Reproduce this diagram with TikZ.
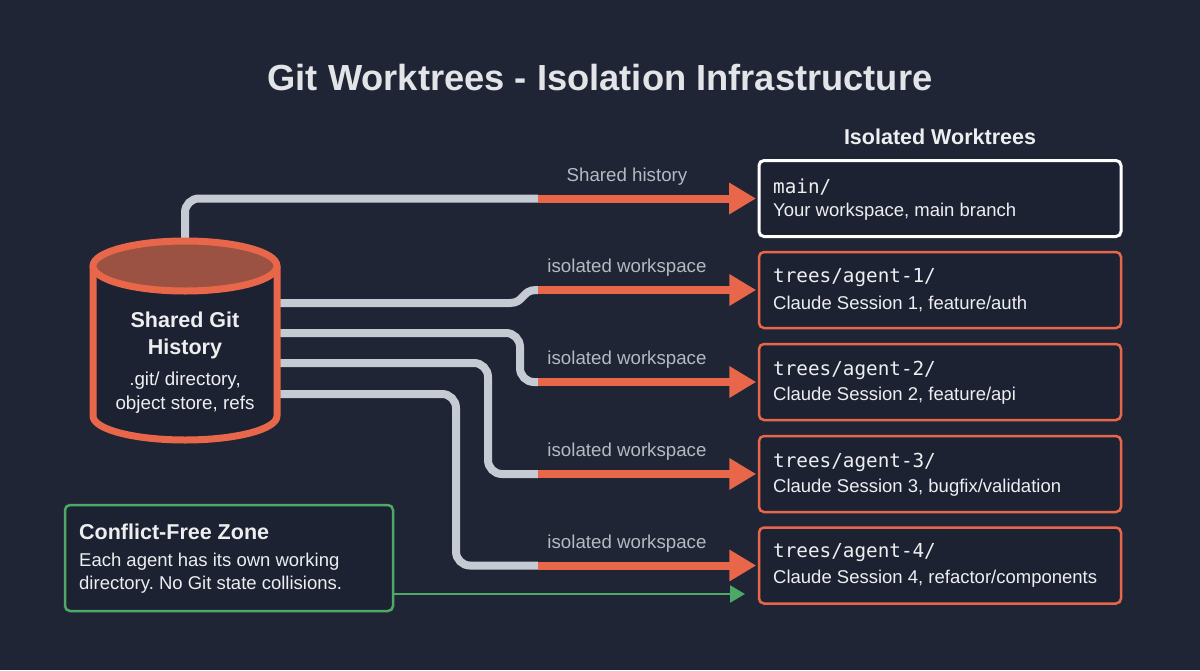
\documentclass[tikz,border=0pt]{standalone}
\usepackage{fontspec}
\setmainfont{Liberation Sans}
\setmonofont{DejaVu Sans Mono}
\usetikzlibrary{arrows.meta}
\definecolor{bg}{HTML}{1F2535}
\definecolor{boxbg}{HTML}{1D2232}
\definecolor{acc}{HTML}{E8674A}
\definecolor{accdark}{HTML}{9C5242}
\definecolor{pipe}{HTML}{C5CAD3}
\definecolor{txt}{HTML}{EDEEF0}
\definecolor{ttl}{HTML}{E2E4E8}
\definecolor{lbl}{HTML}{B5B9C2}
\definecolor{grn}{HTML}{4EA866}
\frenchspacing
\begin{document}
\begin{tikzpicture}[x=1pt,y=-1pt,
  wtbox/.style={draw=acc, line width=2.5pt, rounded corners=5pt, fill=boxbg, minimum width=362pt, minimum height=76pt, inner sep=0pt},
  mainbox/.style={wtbox, draw=white, line width=3pt},
  monot/.style={anchor=west, font=\ttfamily\fontsize{19.3}{22}\selectfont, text=txt, inner sep=0pt},
  bodyt/.style={anchor=west, font=\fontsize{18.5}{21}\selectfont, text=txt, inner sep=0pt},
  lbltxt/.style={font=\fontsize{18.7}{21}\selectfont, text=lbl, inner sep=0pt},
  pipeline/.style={draw=pipe, line width=8pt, rounded corners=14pt},
  flow/.style={draw=acc, line width=8pt, shorten >=1.5pt, -{Triangle[length=27pt,width=30pt]}},
  gflow/.style={draw=grn, line width=2.5pt, -{Triangle[length=15pt,width=17pt]}},
]
\useasboundingbox (0,0) rectangle (1200,670);
\fill[bg] (0,0) rectangle (1200,670);

% title
\node[font=\bfseries\fontsize{36.3}{40}\selectfont, text=ttl] (title) at (600,78) {Git Worktrees - Isolation Infrastructure};
\node[font=\bfseries\fontsize{21.5}{24}\selectfont, text=txt] (wthead) at (940,137) {Isolated Worktrees};

% worktree boxes
\node[mainbox] (w0) at (940,198.5) {};
\node[wtbox] (w1) at (940,290) {};
\node[wtbox] (w2) at (940,382) {};
\node[wtbox] (w3) at (940,474) {};
\node[wtbox] (w4) at (940,565.5) {};

\node[monot] (m0) at (773,187) {main/};
\node[bodyt] (b0) at (773,212) {Your workspace, main branch};
\node[monot] (m1) at (773,278) {trees/agent-1/};
\node[bodyt] (b1) at (773,304) {Claude Session 1, feature/auth};
\node[monot] (m2) at (773,370) {trees/agent-2/};
\node[bodyt] (b2) at (773,396) {Claude Session 2, feature/api};
\node[monot] (m3) at (773,462) {trees/agent-3/};
\node[bodyt] (b3) at (773,488) {Claude Session 3, bugfix/validation};
\node[monot] (m4) at (773,553) {trees/agent-4/};
\node[bodyt] (b4) at (773,579) {Claude Session 4, refactor/components};

% cylinder anchor node
\node[minimum width=184pt, minimum height=198pt, inner sep=0pt] (cyl) at (185,341) {};

% junctions
\coordinate (j0) at (538,198.5);
\coordinate (j1) at (538,290);
\coordinate (j2) at (538,382);
\coordinate (j3) at (538,474);
\coordinate (j4) at (538,565.5);
\coordinate (s1) at (270,303);
\coordinate (s2) at (270,333);
\coordinate (s3) at (270,363);
\coordinate (s4) at (270,394);

% gray pipes
\draw[pipeline] (cyl.north) -- (cyl.north |- j0) -- (j0);
\draw[draw=pipe, line width=8pt] (s1) -- (510,303) .. controls (524,303) and (522,290) .. (536,290) -- (j1);
\draw[pipeline] (s2) -- (520,333) -- (520,382) -- (j2);
\draw[pipeline] (s3) -- (488,363) -- (488,474) -- (j3);
\draw[pipeline] (s4) -- (456,394) -- (456,565.5) -- (j4);

% orange arrows
\draw[flow] (j0) -- (w0.west);
\draw[flow] (j1) -- (w1.west);
\draw[flow] (j2) -- (w2.west);
\draw[flow] (j3) -- (w3.west);
\draw[flow] (j4) -- (w4.west);

% labels
\node[lbltxt] (l0) at (627,177) {Shared history};
\node[lbltxt] (l1) at (627,268) {isolated workspace};
\node[lbltxt] (l2) at (627,360) {isolated workspace};
\node[lbltxt] (l3) at (627,452) {isolated workspace};
\node[lbltxt] (l4) at (627,544) {isolated workspace};

% cylinder
\filldraw[draw=acc, fill=boxbg, line width=7pt, line join=round] (93,266) -- (93,416) arc[start angle=180, end angle=360, x radius=92pt, y radius=24pt] -- (277,266);
\filldraw[draw=acc, fill=accdark, line width=7pt] (185,266) ellipse [x radius=92pt, y radius=25pt];
\node[font=\bfseries\fontsize{21.5}{27}\selectfont, text=txt, align=center, inner sep=0pt] (cylt) at (185,335.5) {Shared Git\\History};
\node[font=\fontsize{18.8}{24}\selectfont, text=txt, align=center, inner sep=0pt] (cyls) at (185,393) {.git/ directory,\\object store, refs};

% conflict-free zone
\node[draw=grn, line width=2.5pt, rounded corners=5pt, fill=boxbg, minimum width=328pt, minimum height=106pt, inner sep=0pt] (cf) at (229,558) {};
\node[anchor=west, inner sep=0pt, font=\bfseries\fontsize{21.5}{24}\selectfont, text=txt] (cft) at (79,532) {Conflict-Free Zone};
\node[bodyt] (cf1) at (79,562) {Each agent has its own working};
\node[bodyt] (cf2) at (79,585) {directory. No Git state collisions.};
\coordinate (gs) at (393,594);
\coordinate (ge) at (745,594);
\draw[gflow] (gs) -- (ge);
\end{tikzpicture}
\end{document}
